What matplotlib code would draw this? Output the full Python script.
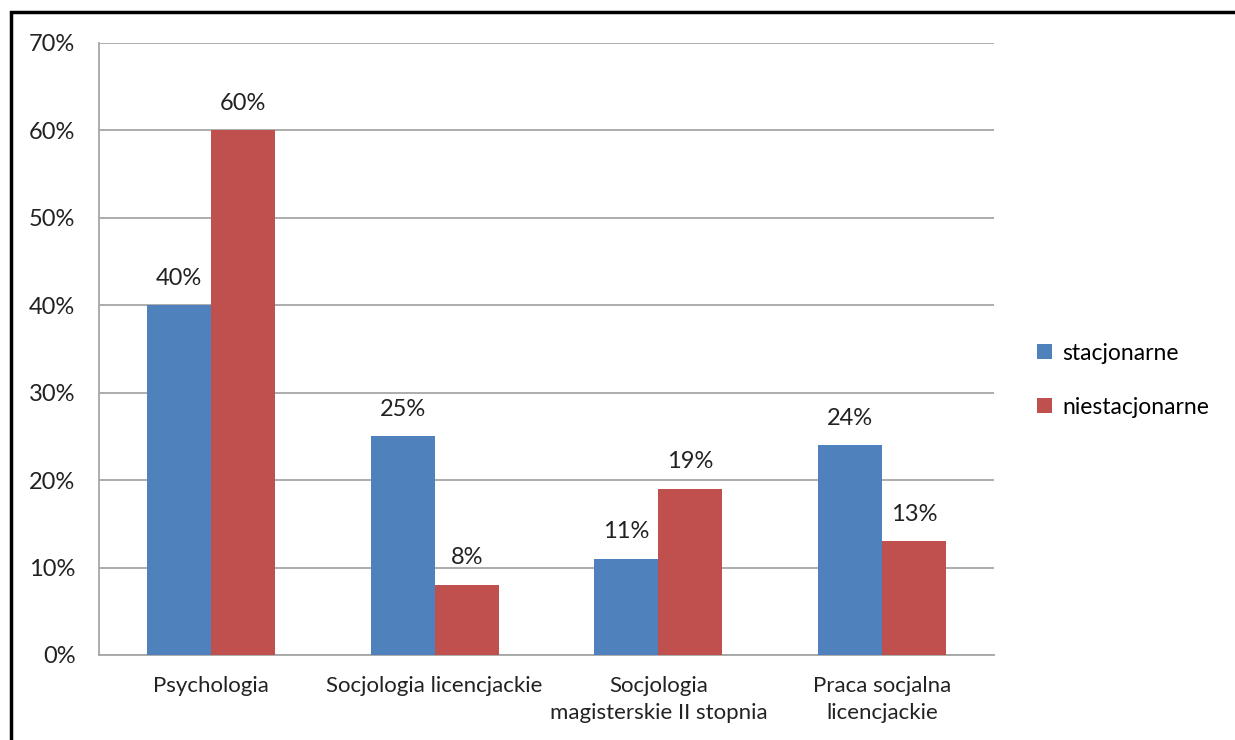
import matplotlib
matplotlib.use("Agg")
import matplotlib.pyplot as plt
import numpy as np
from matplotlib.patches import Rectangle
from matplotlib.ticker import PercentFormatter

plt.rcParams["font.family"] = ["Lato", "DejaVu Sans"]

kierunki = ["Psychologia", "Socjologia licencjackie",
            "Socjologia\nmagisterskie II stopnia", "Praca socjalna\nlicencjackie"]
stacjonarne = [40, 25, 11, 24]
niestacjonarne = [60, 8, 19, 13]
serie = ["stacjonarne", "niestacjonarne"]
kolory = ["#4F81BD", "#C0504D"]

fig = plt.figure(figsize=(12.35, 7.4), dpi=100)
ax = fig.add_axes([0.0802, 0.1149, 0.7247, 0.827])

x = np.arange(len(kierunki))
w = 0.286
for vals, nazwa, kolor, off in zip([stacjonarne, niestacjonarne], serie, kolory, [-w / 2, w / 2]):
    bars = ax.bar(x + off, vals, w, color=kolor, label=nazwa, zorder=3)
    for b, v in zip(bars, vals):
        ax.text(b.get_x() + b.get_width() / 2, v + 1.9, f"{v}%",
                ha="center", va="bottom", fontsize=17, color="#222222")

ax.set_xlim(-0.5, len(kierunki) - 0.5)
ax.set_ylim(0, 70)
ax.set_yticks(np.arange(0, 71, 10))
ax.yaxis.set_major_formatter(PercentFormatter(decimals=0))
ax.yaxis.grid(True, color="#A6A6A6", linewidth=1.3, zorder=0)
ax.set_axisbelow(True)
ax.set_xticks(x)
ax.set_xticklabels(kierunki, fontsize=16, color="#222222", linespacing=1.45)
ax.tick_params(axis="y", length=0, pad=17, labelsize=17, labelcolor="#222222")
ax.tick_params(axis="x", length=0, pad=15)

for s in ["top", "right"]:
    ax.spines[s].set_visible(False)
for s in ["left", "bottom"]:
    ax.spines[s].set_color("#A6A6A6")
    ax.spines[s].set_linewidth(1.3)

ax.legend(loc="center left", bbox_to_anchor=(1.025, 0.449), frameon=False,
          fontsize=16.5, handlelength=0.65, handleheight=0.65, labelspacing=1.45,
          handletextpad=0.45)

# ramka wykresu
fig.patches.append(Rectangle((0.0089, -0.1), 1.2, 1.0838, transform=fig.transFigure,
                             fill=False, edgecolor="black", linewidth=2.5))

fig.savefig("out.png", dpi=100)
